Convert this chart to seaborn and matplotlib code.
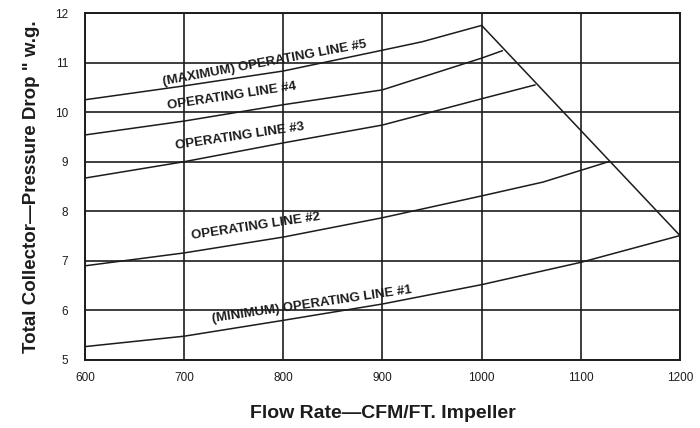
import numpy as np
import pandas as pd
import matplotlib
matplotlib.use('Agg')
import matplotlib.pyplot as plt
import seaborn as sns

# operating lines (flow CFM/ft, pressure drop "w.g.)
line1_x = [600, 700, 800, 900, 1000, 1100, 1200]
line1_y = [5.27, 5.48, 5.80, 6.13, 6.52, 6.97, 7.51]

line2_x = [600, 700, 800, 900, 1000, 1062, 1128]
line2_y = [6.90, 7.16, 7.48, 7.87, 8.31, 8.59, 9.00]

line3_x = [600, 700, 800, 900, 1000, 1054]
line3_y = [8.67, 9.00, 9.38, 9.74, 10.27, 10.55]

line4_x = [600, 700, 800, 900, 1000, 1021]
line4_y = [9.54, 9.82, 10.15, 10.45, 11.09, 11.24]

line5_x = [600, 700, 800, 900, 940, 1000]
line5_y = [10.25, 10.53, 10.83, 11.25, 11.42, 11.75]

envelope_x = [1000, 1200]
envelope_y = [11.75, 7.51]

labels = ['(MINIMUM) OPERATING LINE #1', 'OPERATING LINE #2', 'OPERATING LINE #3',
          'OPERATING LINE #4', '(MAXIMUM) OPERATING LINE #5']
label_x = [829, 772, 756, 748, 781]
label_y = [6.11, 7.70, 9.52, 10.33, 10.99]
label_rot = [8.3, 8.5, 8.5, 8.7, 10.5]

x_ticks = [600, 700, 800, 900, 1000, 1100, 1200]
y_ticks = [5, 6, 7, 8, 9, 10, 11, 12]

sns.set_style('white')
plt.rcParams['font.family'] = ['Liberation Sans', 'DejaVu Sans']

ink = '#1c1c1c'

fig = plt.figure(figsize=(7, 4.28), dpi=100)
ax = fig.add_axes([0.1214, 0.1589, 0.85, 0.8107])

curves = [(line1_x, line1_y), (line2_x, line2_y), (line3_x, line3_y),
          (line4_x, line4_y), (line5_x, line5_y), (envelope_x, envelope_y)]
for xs, ys in curves:
    df = pd.DataFrame({'x': xs, 'y': ys})
    sns.lineplot(data=df, x='x', y='y', ax=ax, color=ink, lw=1.1, sort=False)

for t, lx, ly, r in zip(labels, label_x, label_y, label_rot):
    ax.text(lx, ly, t, rotation=r, rotation_mode='anchor', ha='center', va='center',
            fontsize=9.5, fontweight='bold', color=ink)

ax.set_xlim(600, 1200)
ax.set_ylim(5, 12)
ax.set_xticks(x_ticks)
ax.set_yticks(y_ticks)
ax.grid(True, color=ink, lw=1.2)
ax.tick_params(length=0, labelsize=8.5, colors=ink)
ax.tick_params(axis='x', pad=9)
ax.tick_params(axis='y', pad=12)
for s in ax.spines.values():
    s.set_color(ink)
    s.set_linewidth(1.4)

ax.set_xlabel('Flow Rate—CFM/FT. Impeller', fontsize=14, fontweight='bold', color=ink, labelpad=15)
ax.set_ylabel('Total Collector—Pressure Drop " w.g.', fontsize=13.5, fontweight='bold', color=ink, labelpad=11)

fig.savefig('out.png', dpi=100)
